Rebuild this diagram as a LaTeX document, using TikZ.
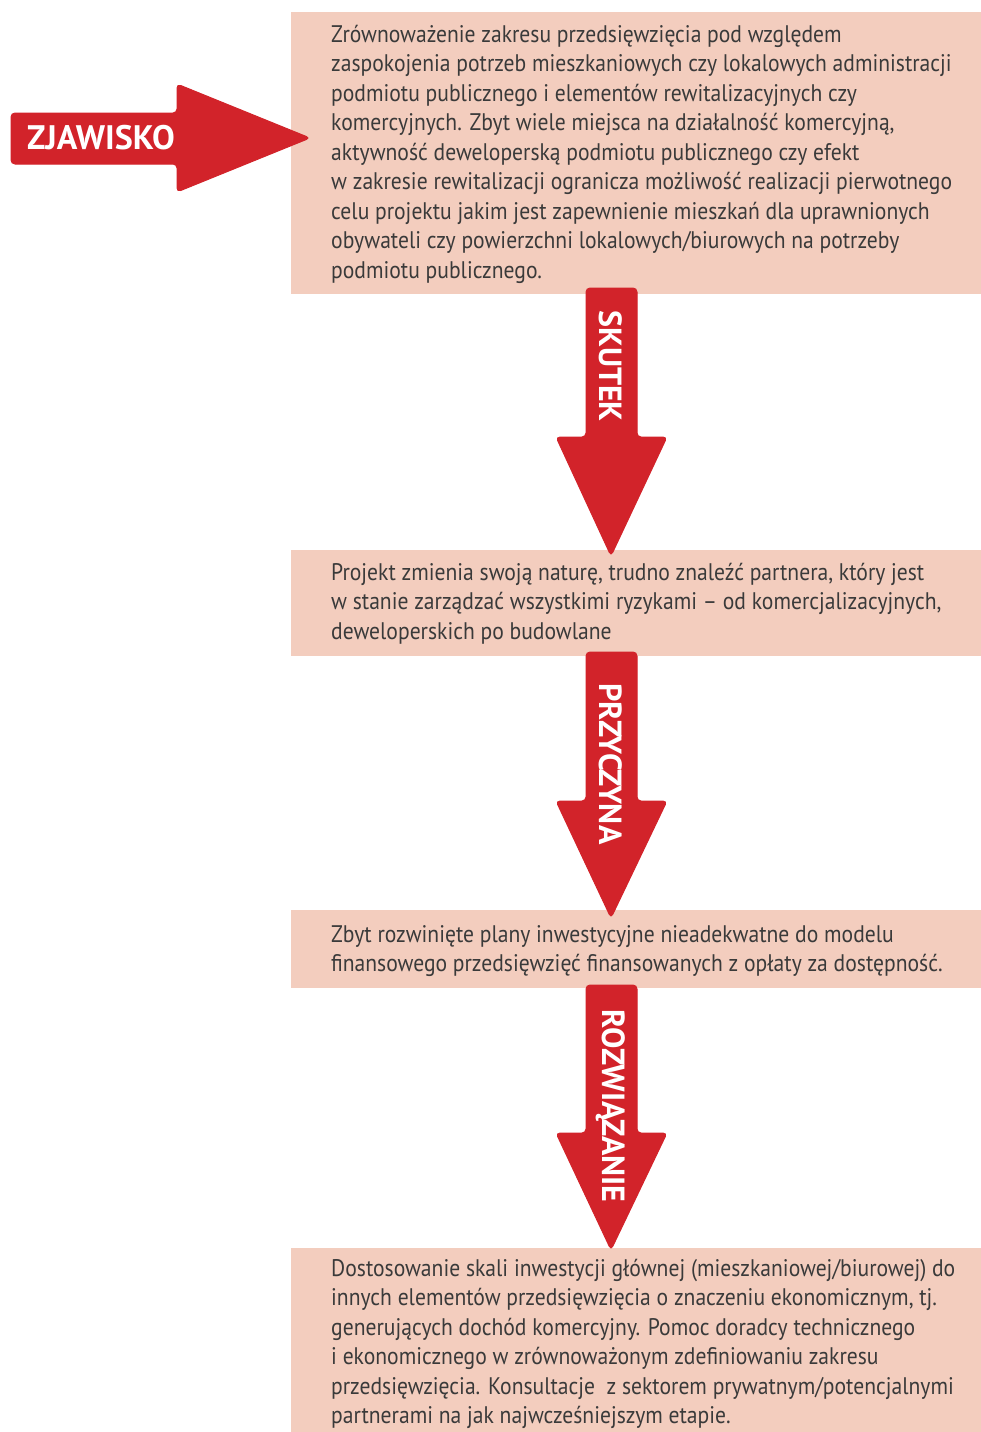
\documentclass[tikz,border=0pt]{standalone}
\usepackage{fontspec}
\setmainfont{PT Sans}
\newfontfamily\bodyfont[FakeStretch=0.9]{PT Sans}
\newfontfamily\labelfont{PT Sans}
\definecolor{arrowred}{HTML}{D2232A}
\definecolor{boxpink}{HTML}{F3CDBE}
\definecolor{bodytext}{HTML}{3A3A3A}
\begin{document}
\begin{tikzpicture}[x=1pt,y=-1pt,
  box/.style={fill=boxpink,draw=none},
  redarrow/.style={fill=arrowred,draw=arrowred,line width=1pt,rounded corners=4pt},
  bodytxt/.style={anchor=north west,inner sep=0pt,align=left,text=bodytext,font=\bodyfont\fontsize{24}{29.45}\selectfont},
  vlabel/.style={text=white,rotate=-90,inner sep=0pt,font=\labelfont\bfseries\fontsize{32}{32}\selectfont}]
\useasboundingbox (0,0) rectangle (981,1432);
% boxes
\fill[box] (291,12) rectangle (981,294);
\fill[box] (291,550) rectangle (981,656);
\fill[box] (291,910) rectangle (981,988);
\fill[box] (291,1248) rectangle (981,1432);
% left arrow
\filldraw[redarrow] (11,113) -- (177,113) -- (177,84) -- (310,138) -- (177,192) -- (177,164) -- (11,164) -- cycle;
\node[text=white,inner sep=0pt,font=\labelfont\bfseries\fontsize{34}{34}\selectfont] (zjawisko) at (101,138) {ZJAWISKO};
% down arrows
\filldraw[redarrow] (586,288) -- (637,288) -- (637,437) -- (667,437) -- (611,556) -- (556,437) -- (586,437) -- cycle;
\node[vlabel] (skutek) at (611,366) {SKUTEK};
\filldraw[redarrow] (586,652) -- (637,652) -- (637,801) -- (667,801) -- (611,918) -- (556,801) -- (586,801) -- cycle;
\node[vlabel] (przyczyna) at (611,764) {PRZYCZYNA};
\filldraw[redarrow] (586,985) -- (637,985) -- (637,1133) -- (667,1133) -- (611,1250) -- (556,1133) -- (586,1133) -- cycle;
\node[vlabel] (rozwiazanie) at (611,1106) {ROZWIĄZANIE};
% texts
\node[bodytxt] (t1) at (331,25) {Zrównoważenie zakresu przedsięwzięcia pod względem\\
zaspokojenia potrzeb mieszkaniowych czy lokalowych administracji\\
podmiotu publicznego i elementów rewitalizacyjnych czy\\
komercyjnych. Zbyt wiele miejsca na działalność komercyjną,\\
aktywność deweloperską podmiotu publicznego czy efekt\\
w zakresie rewitalizacji ogranicza możliwość realizacji pierwotnego\\
celu projektu jakim jest zapewnienie mieszkań dla uprawnionych\\
obywateli czy powierzchni lokalowych/biurowych na potrzeby\\
podmiotu publicznego.};
\node[bodytxt] (t2) at (331,563) {Projekt zmienia swoją naturę, trudno znaleźć partnera, który jest\\
w stanie zarządzać wszystkimi ryzykami – od komercjalizacyjnych,\\
deweloperskich po budowlane};
\node[bodytxt] (t3) at (331,925) {Zbyt rozwinięte plany inwestycyjne nieadekwatne do modelu\\
finansowego przedsięwzięć finansowanych z opłaty za dostępność.};
\node[bodytxt] (t4) at (331,1259) {Dostosowanie skali inwestycji głównej (mieszkaniowej/biurowej) do\\
innych elementów przedsięwzięcia o znaczeniu ekonomicznym, tj.\\
generujących dochód komercyjny. Pomoc doradcy technicznego\\
i ekonomicznego w zrównoważonym zdefiniowaniu zakresu\\
przedsięwzięcia. Konsultacje\ \ z sektorem prywatnym/potencjalnymi\\
partnerami na jak najwcześniejszym etapie.};
\end{tikzpicture}
\end{document}
